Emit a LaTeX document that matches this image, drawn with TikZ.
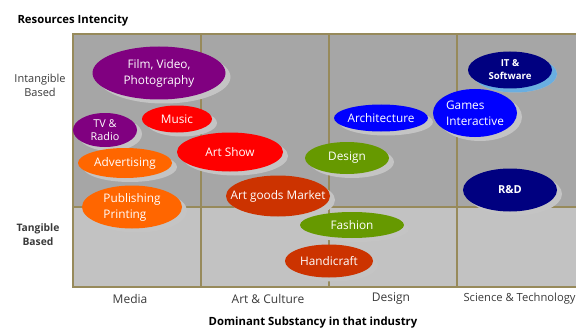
\documentclass[tikz,border=0pt]{standalone}
\usepackage{fontspec}
\setmainfont{Open Sans}
\usetikzlibrary{shapes.geometric}
\usetikzlibrary{shadows}
\definecolor{fondhaut}{HTML}{A6A6A6}
\definecolor{fondbas}{HTML}{C2C2C2}
\definecolor{cadre}{HTML}{978A5B}
\definecolor{ombre}{HTML}{C4C4C4}
\definecolor{ombrebleue}{HTML}{6AAEE0}
\definecolor{pourpre}{HTML}{800080}
\definecolor{rouge}{HTML}{FF0000}
\definecolor{orangevif}{HTML}{FF6600}
\definecolor{brique}{HTML}{CC3300}
\definecolor{vert}{HTML}{669900}
\definecolor{bleu}{HTML}{0000FF}
\definecolor{marine}{HTML}{000080}
\definecolor{gris}{HTML}{3A3A3A}

\begin{document}
\begin{tikzpicture}[x=1pt,y=-1pt]
% Styles
\tikzstyle{cadre}=[draw=cadre,line width=2pt]
\tikzstyle{bulle}=[ellipse,inner sep=0pt,drop shadow={shadow xshift=5pt,shadow yshift=-4pt,fill=ombre,opacity=1}]
\tikzstyle{etiquette}=[text=white,align=center,inner sep=0pt,font=\fontsize{11.8}{16}\selectfont]
\tikzstyle{axe}=[font=\bfseries\fontsize{11.3}{13}\selectfont]
\tikzstyle{ligne}=[text=gris,align=center,font=\fontsize{11}{14}\selectfont]
\tikzstyle{colonne}=[text=gris,font=\fontsize{12}{14}\selectfont]
% Dimensions
\def\gauche{73}
\def\droite{600}
\def\haut{34}
\def\milieu{207}
\def\bas{287}
\useasboundingbox (0,0) rectangle (576,329);
\clip (0,0) rectangle (576,329);
% Fond
\fill[fondhaut] (\gauche,\haut) rectangle (\droite,\milieu);
\fill[fondbas] (\gauche,\milieu) rectangle (\droite,\bas);
% Grille
\draw[cadre] (\gauche,\haut) rectangle (\droite,\bas);
\foreach \x in {201,329,457} \draw[cadre] (\x,\haut) -- (\x,\bas);
\draw[cadre] (\gauche,\milieu) -- (\droite,\milieu);
% Axes
\node[axe,anchor=west] (ri) at (14,21) {Resources Intencity};
\node[axe] (ds) at (313,323) {Dominant Substancy in that industry};
\node[ligne] (ib) at (40,85) {Intangible\\Based};
\node[ligne,font=\bfseries\fontsize{10.3}{14}\selectfont] (tb) at (38,235) {Tangible\\Based};
\node[colonne] (c1) at (130,299) {Media};
\node[colonne] (c2) at (268,299) {Art \& Culture};
\node[colonne] (c3) at (391,299) {Design};
\node[colonne,anchor=west,font=\fontsize{11.2}{14}\selectfont] (c4) at (460,299) {Science \& Technology};
% Bulles
\node[bulle,fill=pourpre,minimum width=133,minimum height=53,label={[etiquette]center:{Film, Video,\\Photography}}] (film) at (159,73) {};
\node[bulle,fill=pourpre,minimum width=64,minimum height=34,label={[etiquette,font=\fontsize{10.8}{13}\selectfont]center:{TV \&\\Radio}}] (tv) at (105,130) {};
\node[bulle,fill=rouge,minimum width=70,minimum height=27,label={[etiquette]center:Music}] (music) at (177,119) {};
\node[bulle,fill=orangevif,minimum width=94,minimum height=30,label={[etiquette]center:Advertising}] (adv) at (125,163) {};
\node[bulle,fill=rouge,minimum width=106,minimum height=39,label={[etiquette]center:Art Show}] (show) at (230,152) {};
\node[bulle,fill=orangevif,minimum width=100,minimum height=43,label={[etiquette,align=left]center:{Publishing\\Printing}}] (pub) at (132,207) {};
\node[bulle,fill=brique,minimum width=104,minimum height=41,label={[etiquette]center:Art goods Market}] (goods) at (278,196) {};
\node[bulle,fill=vert,minimum width=84,minimum height=32,label={[etiquette]center:Design}] (design) at (347,158) {};
\node[bulle,fill=bleu,minimum width=94,minimum height=27,label={[etiquette]center:Architecture}] (archi) at (381,118) {};
\node[bulle,fill=marine,drop shadow={shadow xshift=5pt,shadow yshift=-4pt,fill=ombrebleue,opacity=1},minimum width=84,minimum height=37,label={[etiquette,font=\bfseries\fontsize{9.6}{13}\selectfont]center:{IT \&\\Software}}] (it) at (510,70) {};
\node[bulle,fill=bleu,minimum width=84,minimum height=48,label={[etiquette,align=left]center:{Games\\Interactive}}] (games) at (475,113) {};
\node[bulle,fill=marine,minimum width=94,minimum height=43,label={[etiquette,font=\bfseries\fontsize{11}{13}\selectfont]center:R\&D}] (rd) at (510,190) {};
\node[bulle,fill=vert,minimum width=104,minimum height=26,label={[etiquette]center:Fashion}] (fashion) at (352,225) {};
\node[bulle,fill=brique,minimum width=88,minimum height=33,label={[etiquette]center:Handicraft}] (handi) at (329,261) {};
\end{tikzpicture}
\end{document}
